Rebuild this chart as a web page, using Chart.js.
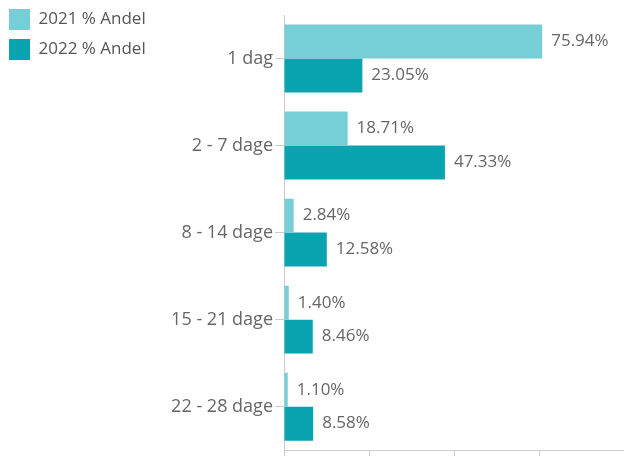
<!DOCTYPE html>
<html>
<head>
<meta charset="utf-8">
<script src="https://cdn.jsdelivr.net/npm/chart.js@4"></script>
<style>
  html, body { margin: 0; padding: 0; background: #fff; }
  #wrap { width: 624px; height: 463px; }
</style>
</head>
<body>
<div id="wrap"><canvas id="andel"></canvas></div>
<script>
const categories = ['1 dag', '2 - 7 dage', '8 - 14 dage', '15 - 21 dage', '22 - 28 dage'];
const andel2021 = [75.94, 18.71, 2.84, 1.40, 1.10];
const andel2022 = [23.05, 47.33, 12.58, 8.46, 8.58];
const xTicks = [0, 25, 50, 75, 100];

const axisLeft = 284;

// value labels at the end of each bar
const barLabels = {
    id: 'barLabels',
    afterDatasetsDraw(chart) {
        const ctx = chart.ctx;
        ctx.save();
        ctx.font = '17px "Open Sans"';
        ctx.fillStyle = '#666';
        ctx.textBaseline = 'middle';
        ctx.textAlign = 'left';
        chart.data.datasets.forEach((ds, i) => {
            chart.getDatasetMeta(i).data.forEach((bar, j) => {
                ctx.fillText(ds.data[j].toFixed(2) + '%', bar.x + 9, bar.y);
            });
        });
        ctx.restore();
    }
};

new Chart(document.getElementById('andel'), {
    type: 'bar',
    data: {
        labels: categories,
        datasets: [{
            label: '2021 % Andel',
            data: andel2021,
            backgroundColor: '#76ced6'
        }, {
            label: '2022 % Andel',
            data: andel2022,
            backgroundColor: '#0aa3b0'
        }]
    },
    options: {
        indexAxis: 'y',
        responsive: true,
        maintainAspectRatio: false,
        animation: false,
        layout: { padding: 0 },
        datasets: {
            bar: { categoryPercentage: 0.78, barPercentage: 1.0 }
        },
        plugins: {
            tooltip: { enabled: false },
            legend: {
                position: 'left',
                align: 'start',
                labels: {
                    boxWidth: 21,
                    boxHeight: 21,
                    padding: 9,
                    color: '#555',
                    font: { family: 'Open Sans', size: 17 }
                }
            }
        },
        scales: {
            y: {
                grid: { offset: false, drawOnChartArea: false, tickLength: 9, color: '#ccc' },
                border: { color: '#ccc' },
                ticks: { color: '#666', font: { family: 'Open Sans', size: 18 }, padding: 2 },
                afterFit(scale) {
                    scale.width = axisLeft - scale.chart.legend.width;
                }
            },
            x: {
                min: 0,
                max: 100,
                afterBuildTicks(scale) {
                    scale.ticks = xTicks.map(v => ({ value: v }));
                },
                ticks: { display: false },
                grid: { drawOnChartArea: false, tickLength: 6, color: '#ccc' },
                border: { color: '#ccc' }
            },
            xTop: {
                type: 'linear',
                position: 'top',
                ticks: { display: false },
                grid: { drawOnChartArea: false, tickLength: 15, color: 'transparent' },
                border: { display: false }
            }
        }
    },
    plugins: [barLabels]
});
</script>
</body>
</html>
